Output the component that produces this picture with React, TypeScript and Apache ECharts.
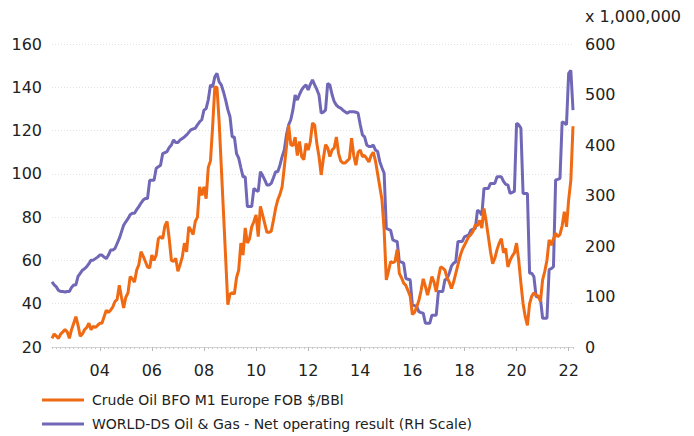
import React, { useEffect, useRef } from "react";
import * as echarts from "echarts";

// Monthly from 2002-03 to 2022-03
const START_YEAR = 2002;
const START_MONTH = 3;
const N_POINTS = 241;

const oilSeriesName = "Crude Oil BFO M1 Europe FOB $/BBl";
const worldSeriesName = "WORLD-DS Oil & Gas - Net operating result (RH Scale)";

const oil = [
  // 2002 Mar-Dec
  24, 26, 25, 24, 26, 27, 28, 27, 24, 28,
  // 2003
  31, 34, 30, 25, 26, 28, 29, 31, 28, 29.5, 29, 30,
  // 2004
  31, 31, 34, 37, 36, 37, 38.5, 41, 42, 48.5, 43, 38,
  // 2005
  43, 45, 52.5, 51.5, 50, 55.5, 58, 64, 62, 59.5, 57, 56.5,
  // 2006
  62.5, 60, 62.5, 70, 71, 70, 76, 78, 70, 60, 59.5, 61,
  // 2007
  55, 58, 61.5, 68, 64, 75.5, 74, 72, 78, 80, 94, 90,
  // 2008
  94, 88.5, 103, 106, 122, 140, 140, 124, 103, 82, 61, 39.5,
  // 2009
  44.5, 45, 44.5, 52, 55.5, 68, 62.5, 75, 68, 70, 75.5, 78,
  // 2010
  81, 71, 85, 81, 77, 73, 73, 73.5, 78.5, 84, 88, 90.5,
  // 2011
  94, 103, 112.5, 122.5, 113.5, 113, 117, 108.5, 115, 108, 106.5, 114,
  // 2012
  111, 115, 123.5, 122.5, 114, 108, 99.5, 107, 113.5, 112, 108, 111,
  // 2013
  112, 117, 109.5, 106, 105, 105, 106, 107, 116.5, 108.5, 104, 110,
  // 2014
  111, 108, 108.5, 107, 105.5, 108.5, 110, 106, 100, 94, 88, 74,
  // 2015
  51, 55, 59.5, 59, 59.5, 65, 54, 52, 49.5, 48.5, 46, 43.5,
  // 2016
  35, 36, 38.5, 41.5, 46, 51.5, 48, 44, 48, 52.5, 50, 45.5,
  // 2017
  52, 57, 56.5, 55.5, 52, 50, 47, 50, 54, 58, 62, 65,
  // 2018
  67, 69, 71, 72, 73.5, 76.5, 76, 78.5, 75, 84, 78, 71,
  // 2019
  64, 58.5, 61, 65, 68, 70, 63.5, 65.5, 57, 60, 62, 63.5,
  // 2020
  68, 60, 49.5, 40, 34, 30, 40, 43.5, 45, 44, 43.5, 41,
  // 2021
  51, 55, 60, 69.5, 67, 70, 72.5, 71, 72, 76, 82.5, 75.5,
  // 2022 Jan-Mar
  88, 97, 122,
];

const world = [
  129, 123, 119, 112, 110, 110, 109, 110, 110, 118,
  123, 123, 140, 146, 152, 155, 159, 165, 172, 172, 175, 178,
  182, 182, 178, 175, 182, 192, 192, 195, 205, 215, 228, 241,
  248, 254, 262, 265, 265, 272, 278, 285, 291, 294, 294, 330,
  330, 330, 354, 357, 360, 383, 385, 387, 395, 400, 410, 405,
  405, 410, 413, 416, 420, 425, 430, 432, 433, 440, 446, 450,
  469, 472, 490, 519, 515, 535, 542, 525, 519, 505, 489, 470,
  456, 416, 416, 383, 374, 355, 337, 337, 278, 278, 278, 314,
  310, 308, 347, 340, 331, 321, 321, 324, 335, 347, 347, 360,
  377, 390, 420, 440, 450, 470, 499, 489, 500, 509, 515, 519,
  509, 520, 529, 519, 510, 499, 463, 465, 469, 522, 519, 500,
  486, 479, 475, 473, 469, 466, 463, 466, 466, 466, 465, 463,
  440, 420, 416, 400, 397, 397, 400, 390, 387, 367, 355, 344,
  235, 233, 231, 212, 210, 209, 169, 168, 166, 136, 134, 133,
  83, 82, 80, 70, 68, 67, 47, 47, 47, 63, 63, 63,
  110, 110, 110, 133, 135, 146, 160, 166, 169, 209, 209, 209,
  218, 220, 222, 232, 233, 235, 271, 268, 261, 314, 314, 314,
  324, 324, 324, 337, 337, 337, 328, 322, 321, 304, 306, 308,
  443, 440, 433, 304, 304, 304, 146, 146, 139, 100, 99, 96,
  57, 57, 57, 153, 155, 159, 331, 332, 334, 446, 444, 440,
  542, 548, 469,
];

const months: string[] = [];
for (let k = 0; k < N_POINTS; k++) {
  const m0 = START_MONTH - 1 + k;
  const y = START_YEAR + Math.floor(m0 / 12);
  const m = (m0 % 12) + 1;
  months.push(`${y}-${m < 10 ? "0" + m : m}`);
}

const FONT = "DejaVu Sans";
const ORANGE = "#EF6A12";
const PURPLE = "#7068B6";

const isMajor = (idx: number, value: string) => {
  const [y, m] = value.split("-").map(Number);
  return m === 1 && y % 2 === 0;
};

const legendBase = {
  orient: "vertical",
  left: 42,
  padding: 0,
  itemWidth: 42,
  itemHeight: 3,
  itemGap: 4,
  icon: "rect",
  textStyle: {
    fontFamily: FONT,
    fontSize: 14,
    color: "#222222",
    padding: [0, 0, 0, 3],
  },
};

export default function App() {
  const ref = useRef<HTMLDivElement>(null);
  useEffect(() => {
    if (!ref.current) return;
    const chart = echarts.init(ref.current, undefined, { renderer: "svg" });
    chart.setOption({
      animation: false,
      backgroundColor: "#ffffff",
      textStyle: { fontFamily: FONT },
      grid: { left: 52, right: 121, top: 44, bottom: 89, containLabel: false },
      legend: [
        { ...legendBase, top: 393, data: [oilSeriesName] },
        { ...legendBase, top: 417, data: [worldSeriesName] },
      ],
      xAxis: [
        {
          type: "category",
          data: months,
          boundaryGap: false,
          axisLine: { show: true, lineStyle: { color: "#d4d4d4", width: 1 } },
          axisTick: {
            show: true,
            interval: (idx: number) => idx % 2 === 0,
            length: 2,
            lineStyle: { color: "#c8c8c8" },
          },
          axisLabel: { show: false },
          splitLine: { show: false },
        },
        {
          type: "category",
          data: months,
          boundaryGap: false,
          position: "bottom",
          offset: 0,
          axisLine: { show: false },
          axisTick: {
            show: true,
            interval: isMajor,
            length: 4,
            lineStyle: { color: "#b8b8b8" },
          },
          axisLabel: {
            interval: isMajor,
            margin: 15,
            fontFamily: FONT,
            fontSize: 16,
            color: "#222222",
            formatter: (v: string) => v.slice(2, 4),
          },
          splitLine: { show: false },
        },
      ],
      yAxis: [
        {
          type: "value",
          min: 20,
          max: 160,
          interval: 20,
          position: "left",
          axisLine: { show: false },
          axisTick: { show: false },
          axisLabel: {
            margin: 10,
            fontFamily: FONT,
            fontSize: 16,
            color: "#222222",
          },
          splitLine: {
            show: true,
            lineStyle: { color: "#e2e2e2", type: [1, 2], width: 1 },
          },
        },
        {
          type: "value",
          min: 0,
          max: 600,
          interval: 100,
          position: "right",
          name: "x 1,000,000",
          nameLocation: "end",
          nameGap: 20,
          nameTextStyle: {
            fontFamily: FONT,
            fontSize: 16,
            color: "#222222",
            align: "left",
            padding: [0, 0, 0, 12],
          },
          axisLine: { show: false },
          axisTick: { show: false },
          axisLabel: {
            margin: 12,
            fontFamily: FONT,
            fontSize: 16,
            color: "#222222",
          },
          splitLine: { show: false },
        },
      ],
      series: [
        {
          name: worldSeriesName,
          type: "line",
          xAxisIndex: 0,
          yAxisIndex: 1,
          data: world,
          showSymbol: false,
          symbol: "none",
          lineStyle: { color: PURPLE, width: 3 },
          itemStyle: { color: PURPLE },
          z: 2,
        },
        {
          name: oilSeriesName,
          type: "line",
          xAxisIndex: 0,
          yAxisIndex: 0,
          data: oil,
          showSymbol: false,
          symbol: "none",
          lineStyle: { color: ORANGE, width: 3 },
          itemStyle: { color: ORANGE },
          z: 3,
        },
      ],
    });
    return () => chart.dispose();
  }, []);
  return (
    <div
      ref={ref}
      style={{ position: "fixed", left: 0, top: 0, width: 694, height: 436 }}
    />
  );
}
